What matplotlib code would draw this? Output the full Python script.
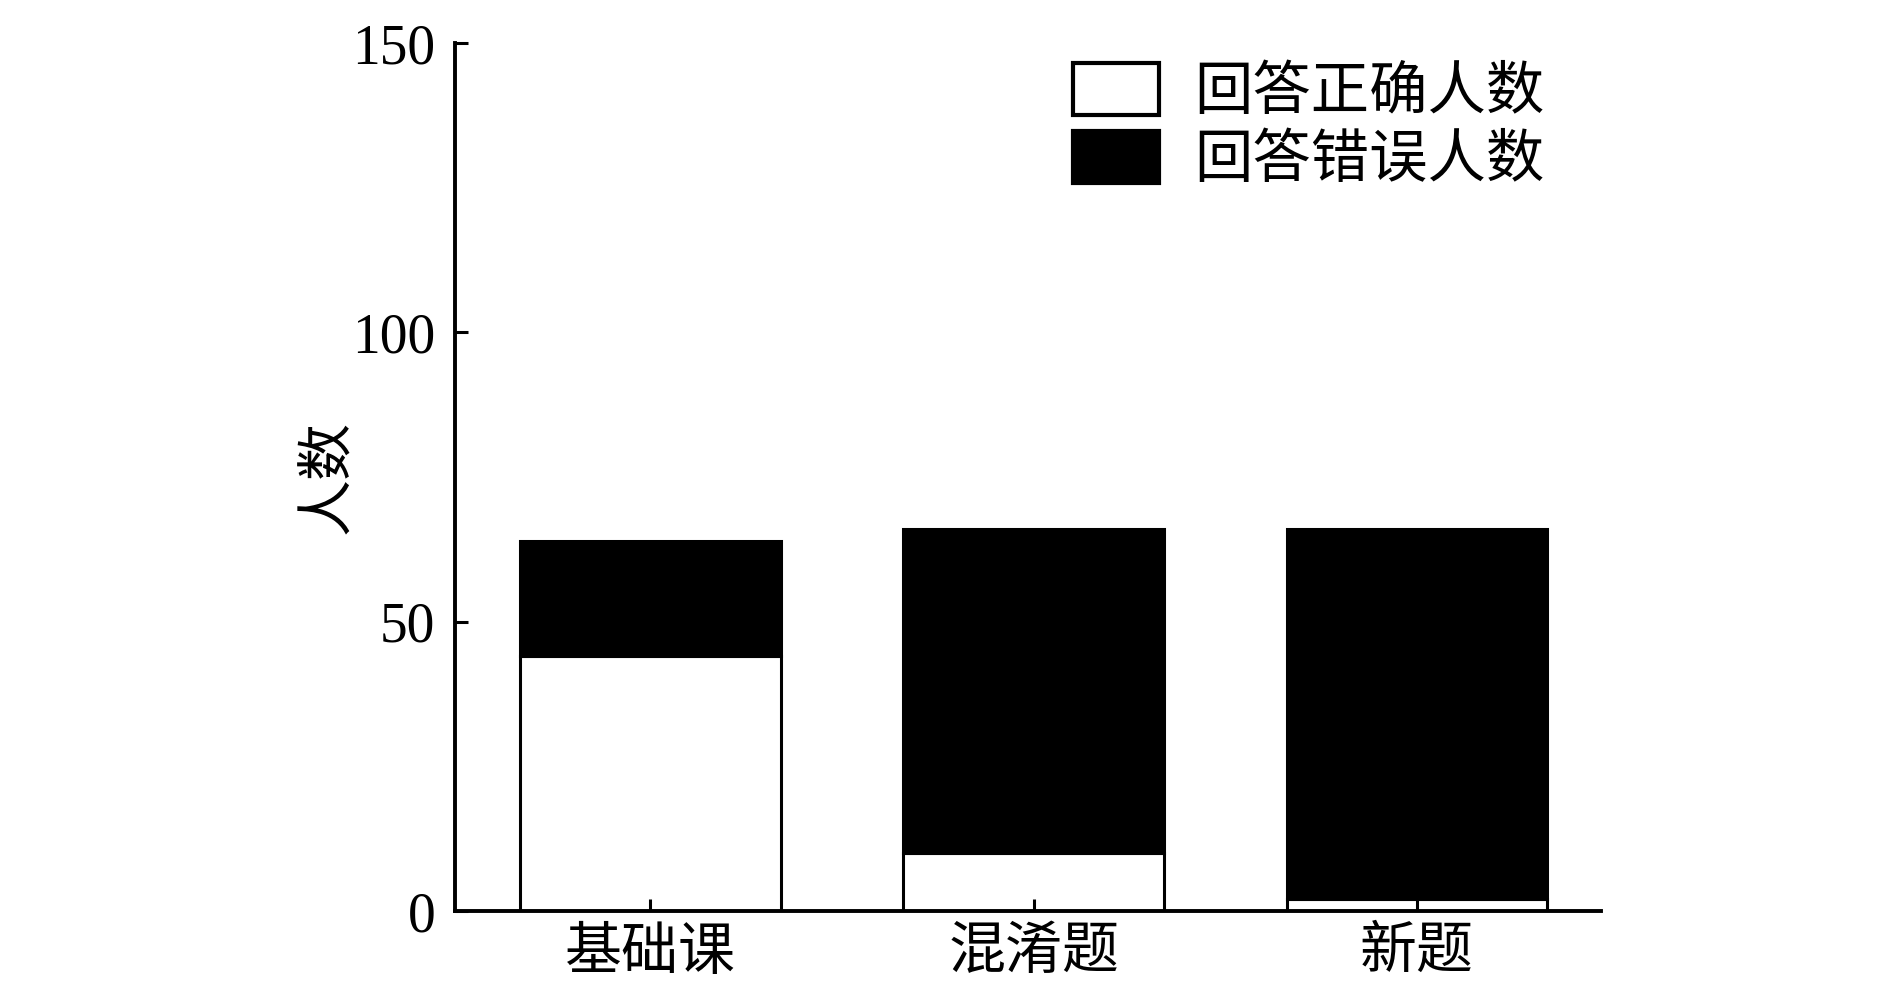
import matplotlib
matplotlib.use("Agg")
import matplotlib.pyplot as plt
from matplotlib.patches import Patch
import numpy as np

plt.rcParams['font.family'] = ['Liberation Serif', 'Noto Sans CJK SC']

categories = ["基础课", "混淆题", "新题"]
correct = [44, 10, 2]
wrong = [20, 56, 64]
legend_labels = ["回答正确人数", "回答错误人数"]
y_label = "人数"
y_ticks = [0, 50, 100, 150]

fig = plt.figure(figsize=(18.9, 9.82), dpi=100)
ax = fig.add_axes([0.2407, 0.0723, 0.847 - 0.2407, 0.956 - 0.0723])

x = np.arange(len(categories))
w = 0.68
ax.bar(x, correct, width=w, color='white', edgecolor='black', linewidth=2.2)
ax.bar(x, wrong, width=w, bottom=correct, color='black', edgecolor='black', linewidth=2.2)

ax.set_xlim(-0.51, 2.48)
ax.set_ylim(0, 150)
ax.set_yticks(y_ticks)
ax.set_xticks(x)
ax.set_xticklabels(categories, fontsize=41)
for s in ['top', 'right']:
    ax.spines[s].set_visible(False)
for s in ['left', 'bottom']:
    ax.spines[s].set_linewidth(2.8)
ax.tick_params(axis='both', direction='in', length=9, width=2.2, labelsize=40)
ax.tick_params(axis='x', labelsize=41)
ax.tick_params(axis='y', pad=14)
ax.tick_params(axis='x', pad=12)
ax.set_ylabel(y_label, fontsize=41, labelpad=-3)

handles = [Patch(facecolor='white', edgecolor='black', linewidth=3),
           Patch(facecolor='black', edgecolor='black', linewidth=3)]
ax.legend(handles, legend_labels, loc='upper right', bbox_to_anchor=(0.817, 0.936),
          bbox_transform=fig.transFigure, frameon=False, fontsize=42,
          handlelength=1.48, handleheight=1.0, handletextpad=0.6, labelspacing=0.17,
          borderpad=0, borderaxespad=0)

fig.savefig("out.png", dpi=100)
